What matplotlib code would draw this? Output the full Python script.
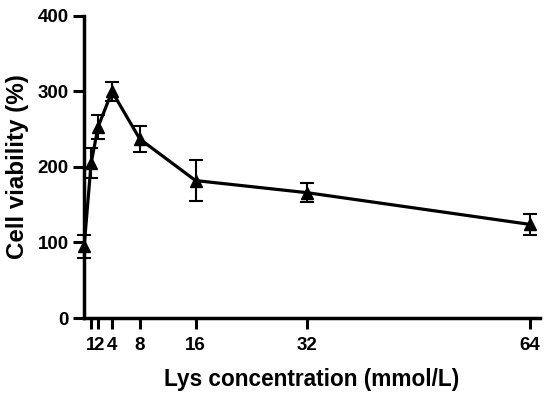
import matplotlib
matplotlib.use('Agg')
import matplotlib.pyplot as plt

# 数据
lys_conc = [0, 1, 2, 4, 8, 16, 32, 64]
viability = [95, 205, 253, 300, 237, 182, 166, 124]
viability_err = [15, 20, 16, 12, 17, 27, 13, 14]
x_ticks = [1, 2, 4, 8, 16, 32, 64]
y_ticks = [0, 100, 200, 300, 400]

plt.rcParams['font.family'] = ['Liberation Sans', 'DejaVu Sans']
plt.rcParams['font.weight'] = 'bold'

fig = plt.figure(figsize=(5.5, 3.99), dpi=100)
ax = fig.add_axes([0.153, 0.203, 0.829, 0.757])

ax.errorbar(lys_conc, viability, yerr=viability_err, color='black',
            marker='^', markersize=9, linewidth=2.3, elinewidth=1.5,
            capsize=5, capthick=1.5, clip_on=False, zorder=3)

ax.set_xlim(0, 65.5)
ax.set_ylim(0, 400)
ax.set_xticks(x_ticks)
ax.set_yticks(y_ticks)
ax.tick_params(axis='both', width=2.2, length=8, labelsize=13.5, direction='out', pad=3)
ax.tick_params(axis='x', pad=6)
for lab in ax.get_xticklabels() + ax.get_yticklabels():
    lab.set_fontweight('bold')

for side in ['top', 'right']:
    ax.spines[side].set_visible(False)
for side in ['left', 'bottom']:
    ax.spines[side].set_linewidth(2.5)

ax.set_xlabel('Lys concentration (mmol/L)', fontsize=16.3, fontweight='bold', labelpad=10)
ax.set_ylabel('Cell viability (%)', fontsize=17.4, fontweight='bold', labelpad=6)

plt.savefig('out.png', dpi=100)
plt.close()
